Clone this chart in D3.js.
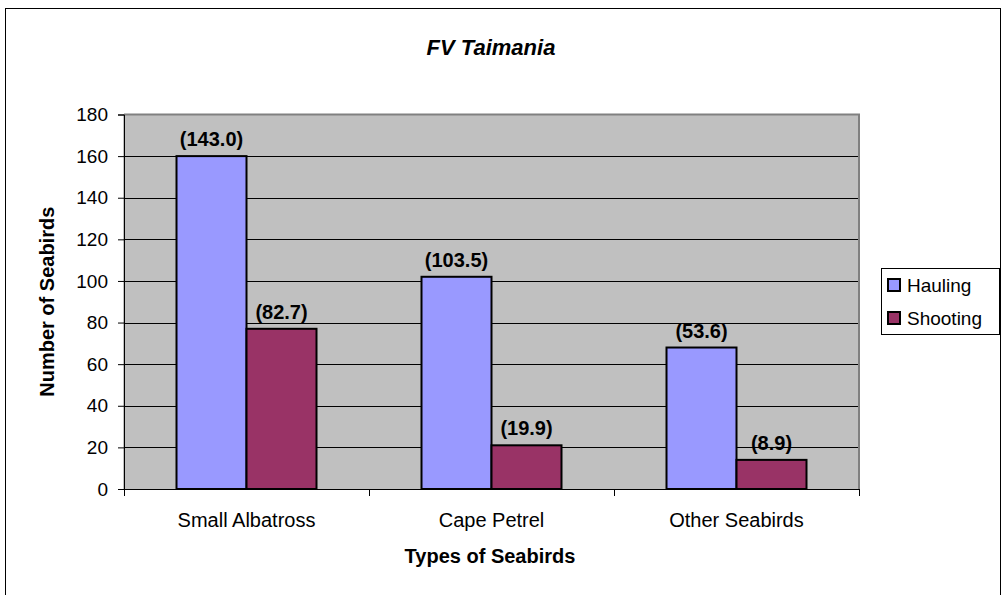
<!DOCTYPE html>
<html>
<head>
<meta charset="utf-8">
<script src="https://cdn.jsdelivr.net/npm/d3@7"></script>
<style>
  body { margin: 0; background: #fff; }
  text { font-family: "Liberation Sans", Arial, sans-serif; }
</style>
</head>
<body>
<script>
const categories = ['Small Albatross', 'Cape Petrel', 'Other Seabirds'];
const seriesNames = ['Hauling', 'Shooting'];
const hauling = [160, 102, 68];
const shooting = [77, 21, 14];
const haulingLabels = ['(143.0)', '(103.5)', '(53.6)'];
const shootingLabels = ['(82.7)', '(19.9)', '(8.9)'];
const yTicks = [0, 20, 40, 60, 80, 100, 120, 140, 160, 180];
const colors = ['#9999ff', '#993366'];

const w = 1006;
const h = 595;
const plot = { left: 124, right: 859, top: 114.5, bottom: 489 };

const data = categories.map((c, i) => ({
  cat: c,
  values: [
    { s: seriesNames[0], v: hauling[i], label: haulingLabels[i] },
    { s: seriesNames[1], v: shooting[i], label: shootingLabels[i] }
  ]
}));

const svg = d3.select('body').append('svg').attr('width', w).attr('height', h);

// outer chart border
svg.append('rect').attr('x', 5.5).attr('y', 8.5).attr('width', 995).attr('height', 600)
   .attr('fill', '#fff').attr('stroke', '#000').attr('stroke-width', 1);

const x0 = d3.scaleBand().domain(categories).range([plot.left, plot.right]).padding(0);
const x1 = d3.scaleBand().domain(seriesNames).range([0, x0.bandwidth()]).paddingInner(0).paddingOuter(0.75);
const y = d3.scaleLinear().domain([0, 180]).range([plot.bottom, plot.top]);

// plot background
svg.append('rect').attr('x', plot.left).attr('y', plot.top)
   .attr('width', plot.right - plot.left).attr('height', plot.bottom - plot.top)
   .attr('fill', '#c0c0c0');

// gridlines
svg.append('g').selectAll('line').data(yTicks.filter(d => d > 0 && d < 180)).enter().append('line')
   .attr('x1', plot.left).attr('x2', plot.right)
   .attr('y1', d => Math.round(y(d)) + 0.5).attr('y2', d => Math.round(y(d)) + 0.5)
   .attr('stroke', '#000').attr('stroke-width', 1);

// plot border (gray)
svg.append('path')
   .attr('d', `M${plot.left},${plot.top}H${plot.right}V${plot.bottom}`)
   .attr('fill', 'none').attr('stroke', '#808080').attr('stroke-width', 2);
svg.append('line').attr('x1', plot.left).attr('x2', plot.left).attr('y1', plot.top).attr('y2', plot.bottom)
   .attr('stroke', '#808080').attr('stroke-width', 1);

// bars
const groups = svg.append('g').selectAll('g').data(data).enter().append('g')
   .attr('transform', d => `translate(${x0(d.cat)},0)`);

groups.selectAll('rect').data(d => d.values).enter().append('rect')
   .attr('x', d => x1(d.s))
   .attr('y', d => y(d.v))
   .attr('width', x1.bandwidth())
   .attr('height', d => y(0) - y(d.v))
   .attr('fill', (d, i) => colors[i])
   .attr('stroke', '#000').attr('stroke-width', 2);

groups.selectAll('text').data(d => d.values).enter().append('text')
   .attr('x', d => x1(d.s) + x1.bandwidth() / 2)
   .attr('y', d => y(d.v) - 10)
   .attr('text-anchor', 'middle')
   .style('font-size', '20px').style('font-weight', 'bold')
   .text(d => d.label);

// axes
const yAxis = d3.axisLeft(y).tickValues(yTicks).tickSize(6).tickPadding(10);
const gy = svg.append('g').attr('transform', `translate(${plot.left},0)`).call(yAxis);
gy.select('.domain').attr('stroke', '#000');
gy.selectAll('text').style('font-size', '19px').attr('fill', '#000');

const xAxis = svg.append('g').attr('transform', `translate(0,${plot.bottom})`);
xAxis.append('line').attr('x1', plot.left).attr('x2', plot.right).attr('y1', 0.5).attr('y2', 0.5)
   .attr('stroke', '#000');
const bounds = categories.map(c => x0(c)).concat([plot.right]);
xAxis.selectAll('.tk').data(bounds).enter().append('line')
   .attr('x1', d => d + 0.5).attr('x2', d => d + 0.5).attr('y1', 0).attr('y2', 7)
   .attr('stroke', '#000');
xAxis.selectAll('.cat').data(categories).enter().append('text')
   .attr('x', d => x0(d) + x0.bandwidth() / 2).attr('y', 38)
   .attr('text-anchor', 'middle').style('font-size', '20px')
   .text(d => d);

// titles
svg.append('text').attr('x', 491).attr('y', 55).attr('text-anchor', 'middle')
   .style('font-size', '22px').style('font-weight', 'bold').style('font-style', 'italic')
   .text('FV Taimania');
svg.append('text').attr('x', 490).attr('y', 563).attr('text-anchor', 'middle')
   .style('font-size', '20px').style('font-weight', 'bold')
   .text('Types of Seabirds');
svg.append('text').attr('transform', `translate(54,${(plot.top + plot.bottom) / 2}) rotate(-90)`)
   .attr('text-anchor', 'middle')
   .style('font-size', '20px').style('font-weight', 'bold')
   .text('Number of Seabirds');

// legend
const legend = svg.append('g').attr('transform', 'translate(881,268)');
legend.append('rect').attr('x', 0.5).attr('y', 0.5).attr('width', 118).attr('height', 66)
   .attr('fill', '#fff').attr('stroke', '#000');
seriesNames.forEach((s, i) => {
  legend.append('rect').attr('x', 7).attr('y', 11 + i * 33).attr('width', 12).attr('height', 12)
     .attr('fill', colors[i]).attr('stroke', '#000').attr('stroke-width', 2);
  legend.append('text').attr('x', 26).attr('y', 24 + i * 33)
     .style('font-size', '19px').text(s);
});
</script>
</body>
</html>
